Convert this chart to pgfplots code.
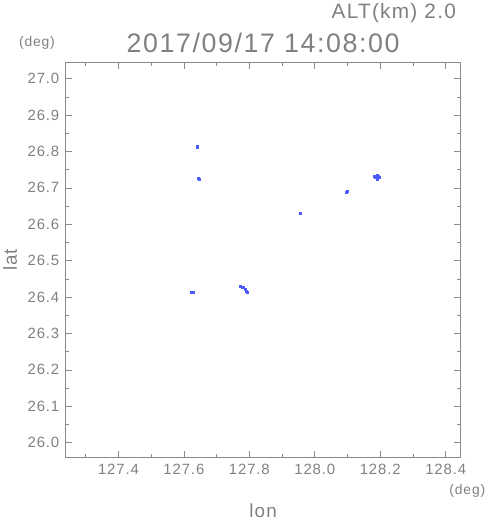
\documentclass[border=0pt]{standalone}
\usepackage{pgfplots}
\pgfplotsset{compat=1.18}
\usepackage{fontspec}
\setmainfont[LetterSpace=6]{Liberation Sans}
\definecolor{txtgray}{HTML}{808080}
\definecolor{axgray}{HTML}{8A8A8A}
\definecolor{ptblue}{HTML}{4A5CFF}
\begin{document}
\begin{tikzpicture}
\begin{axis}[name=ax, scale only axis, width=398pt, height=398pt,
  xmin=127.239, xmax=128.445, ymin=25.96, ymax=27.044,
  xtick={127.4,127.6,127.8,128.0,128.2,128.4},
  minor xtick={127.3,127.5,127.7,127.9,128.1,128.3},
  ytick={26.0,26.1,26.2,26.3,26.4,26.5,26.6,26.7,26.8,26.9,27.0},
  minor ytick={26.05,26.15,26.25,26.35,26.45,26.55,26.65,26.75,26.85,26.95},
  tick align=inside, tick pos=both,
  major tick length=6pt, minor tick length=3pt,
  every tick/.style={draw=axgray, line width=0.6pt},
  axis line style={draw=axgray, line width=0.6pt},
  tick label style={font=\fontsize{15}{17}\selectfont, text=txtgray},
  /pgf/number format/assume math mode=true,
  xticklabel style={/pgf/number format/.cd, fixed, fixed zerofill, precision=1},
  yticklabel style={/pgf/number format/.cd, fixed, fixed zerofill, precision=1},
  xticklabel shift=3pt, yticklabel shift=3pt,
]
\addplot[only marks, mark=square*, mark size=1.0pt, color=ptblue, mark options={draw=ptblue, fill=ptblue}] table {
x y
127.642 26.812
127.640 26.813
127.648 26.725
127.645 26.726
128.097 26.689
128.100 26.690
127.955 26.629
127.622 26.414
127.625 26.413
127.627 26.414
127.771 26.429
127.777 26.428
127.782 26.426
127.787 26.421
127.791 26.416
127.792 26.412
128.185 26.730
128.190 26.735
128.195 26.731
128.190 26.725
128.188 26.728
128.193 26.728
128.183 26.731
128.198 26.729
128.191 26.731
};
\end{axis}
\begin{scope}[every node/.style={text=txtgray}]
\node at ([yshift=20pt]ax.north) {\fontsize{27}{30}\selectfont 2017/09/17 14:08:00};
\node[anchor=east] at ([xshift=-1pt,yshift=50pt]ax.north east) {\fontsize{21}{23}\selectfont ALT(km) 2.0};
\node at ([xshift=-29pt,yshift=20pt]ax.north west) {\fontsize{14}{16}\selectfont (deg)};
\node at ([xshift=7pt,yshift=-34pt]ax.south east) {\fontsize{14}{16}\selectfont (deg)};
\node at ([yshift=-54pt]ax.south) {\fontsize{19}{21}\selectfont lon};
\node[rotate=90] at ([xshift=-56pt]ax.west) {\fontsize{19}{21}\selectfont lat};
\end{scope}
\path ([xshift=-66pt,yshift=-63pt]ax.south west) rectangle ([xshift=27pt,yshift=60pt]ax.north east);
\end{tikzpicture}
\end{document}
